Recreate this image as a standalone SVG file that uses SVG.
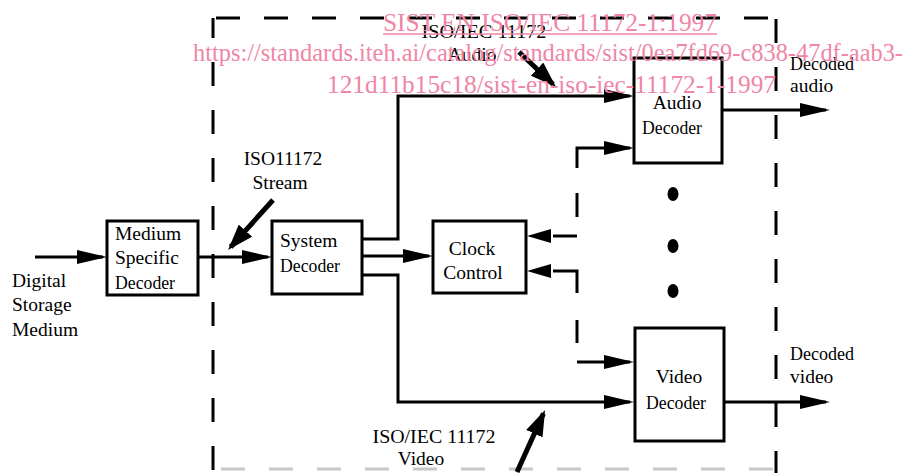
<svg xmlns="http://www.w3.org/2000/svg" width="904" height="473" viewBox="0 0 904 473" font-family="'Liberation Serif', 'DejaVu Serif', serif">
<style>
.box{fill:#fff;stroke:#000;stroke-width:3}
.ln{fill:none;stroke:#000;stroke-width:3}
.thick{fill:none;stroke:#000;stroke-width:5}
.dash{fill:none;stroke:#000;stroke-width:3;stroke-dasharray:24 24}
.t{font-family:'Liberation Serif', 'DejaVu Serif', serif;font-size:19.5px;fill:#000}
.wm{font-family:'Liberation Serif', 'DejaVu Serif', serif;font-size:25px;fill:#ef86a6}
.c{text-anchor:middle}
</style>
<defs>
<marker id="ah" markerUnits="userSpaceOnUse" markerWidth="30" markerHeight="14" refX="26" refY="7" orient="auto"><path d="M0,0 L30,7 L0,14 Z" fill="#000"/></marker>
<marker id="ahs" markerUnits="userSpaceOnUse" markerWidth="24" markerHeight="14" refX="20" refY="7" orient="auto"><path d="M0,0 L24,7 L0,14 Z" fill="#000"/></marker>
<marker id="ahb" markerUnits="userSpaceOnUse" markerWidth="26" markerHeight="18" refX="22" refY="9" orient="auto"><path d="M0,0 L26,9 L0,18 Z" fill="#000"/></marker>
</defs>
<rect width="904" height="473" fill="#fff"/>

<g id="boundary">
<line class="dash" x1="213" y1="18" x2="776" y2="18" stroke-dashoffset="45"/>
<line class="dash" x1="213" y1="18" x2="213" y2="473" stroke-dashoffset="4"/>
<line class="dash" x1="776" y1="19" x2="776" y2="473"/>
<line x1="213" y1="469" x2="776" y2="469" stroke="#c8c8c8" stroke-width="3" stroke-dasharray="24 24" stroke-dashoffset="40"/>
</g>

<g id="connectors">
<line class="ln" x1="35" y1="257" x2="103" y2="257" marker-end="url(#ah)"/>
<line class="ln" x1="198" y1="257" x2="268" y2="257" marker-end="url(#ah)"/>
<polyline class="ln" points="362,239 398,239 398,96 630,96" marker-end="url(#ah)"/>
<line class="ln" x1="362" y1="256" x2="429" y2="256" marker-end="url(#ah)"/>
<polyline class="ln" points="362,275 398,275 398,402 630,402" marker-end="url(#ah)"/>
<line class="ln" x1="722" y1="110" x2="826" y2="110" marker-end="url(#ah)"/>
<line class="ln" x1="722" y1="402" x2="826" y2="402" marker-end="url(#ah)"/>
<polyline class="ln" points="577,168 577,148 630,148" marker-end="url(#ah)"/>
<line class="ln" x1="577" y1="193" x2="577" y2="217"/>
<line class="ln" x1="577" y1="236" x2="531" y2="236" stroke-dasharray="24 100" marker-end="url(#ahs)"/>
<polyline class="ln" points="577,293 577,271 531,271" stroke-dasharray="46 100" marker-end="url(#ahs)"/>
<line class="ln" x1="577" y1="320" x2="577" y2="343"/>
<line class="ln" x1="577" y1="362" x2="630" y2="362" marker-end="url(#ah)"/>
<line class="thick" x1="273" y1="200" x2="230.7" y2="247" marker-end="url(#ahb)"/>
<line class="thick" x1="519" y1="52" x2="553.1" y2="84.2" marker-end="url(#ahb)"/>
<line class="thick" x1="517" y1="472" x2="543.4" y2="413.6" marker-end="url(#ahb)"/>
</g>

<g id="medium-specific-decoder">
<rect class="box" x="107" y="221" width="91" height="74"/>
<text class="t" x="115" y="240">Medium</text>
<text class="t" x="115" y="264">Specific</text>
<text class="t" x="115" y="289" textLength="60" lengthAdjust="spacingAndGlyphs">Decoder</text>
</g>

<g id="system-decoder">
<rect class="box" x="272" y="221" width="90" height="73"/>
<text class="t" x="280" y="247">System</text>
<text class="t" x="280" y="272" textLength="60" lengthAdjust="spacingAndGlyphs">Decoder</text>
</g>

<g id="clock-control">
<rect class="box" x="433" y="221" width="93" height="72"/>
<text class="t c" x="472" y="255">Clock</text>
<text class="t c" x="473" y="279">Control</text>
</g>

<g id="audio-decoder">
<rect class="box" x="634" y="58" width="88" height="105"/>
<text class="t c" x="677" y="109">Audio</text>
<text class="t c" x="672" y="134" textLength="60" lengthAdjust="spacingAndGlyphs">Decoder</text>
</g>

<g id="video-decoder">
<rect class="box" x="635" y="328" width="89" height="113"/>
<text class="t c" x="679" y="383">Video</text>
<text class="t c" x="676" y="409" textLength="60" lengthAdjust="spacingAndGlyphs">Decoder</text>
</g>

<g id="dots">
<ellipse cx="673" cy="194" rx="5.5" ry="7"/>
<ellipse cx="673" cy="246" rx="5.5" ry="7"/>
<ellipse cx="673" cy="291" rx="5.5" ry="7"/>
</g>

<g id="labels">
<text class="t" x="12" y="287">Digital</text>
<text class="t" x="12" y="311">Storage</text>
<text class="t" x="12" y="336">Medium</text>
<text class="t c" x="283" y="165">ISO11172</text>
<text class="t c" x="280" y="189">Stream</text>
<text class="t c" x="484" y="38" textLength="125" lengthAdjust="spacingAndGlyphs">ISO/IEC 11172</text>
<text class="t c" x="472" y="61">Audio</text>
<text class="t c" x="434" y="443" textLength="123" lengthAdjust="spacingAndGlyphs">ISO/IEC 11172</text>
<text class="t c" x="421" y="465">Video</text>
<text class="t" x="790" y="70" textLength="64" lengthAdjust="spacingAndGlyphs">Decoded</text>
<text class="t" x="790" y="92">audio</text>
<text class="t" x="790" y="360" textLength="64" lengthAdjust="spacingAndGlyphs">Decoded</text>
<text class="t" x="790" y="383">video</text>
</g>

<g id="watermark">
<text class="wm" x="383" y="31" textLength="334" lengthAdjust="spacingAndGlyphs">SIST EN ISO/IEC 11172-1:1997</text>
<line x1="383" y1="34" x2="717" y2="34" stroke="#ef86a6" stroke-width="1.5"/>
<text class="wm" x="193" y="61" textLength="710" lengthAdjust="spacingAndGlyphs">https://standards.iteh.ai/catalog/standards/sist/0ea7fd69-c838-47df-aab3-</text>
<text class="wm" x="327" y="93" textLength="449" lengthAdjust="spacingAndGlyphs">121d11b15c18/sist-en-iso-iec-11172-1-1997</text>
</g>
</svg>
